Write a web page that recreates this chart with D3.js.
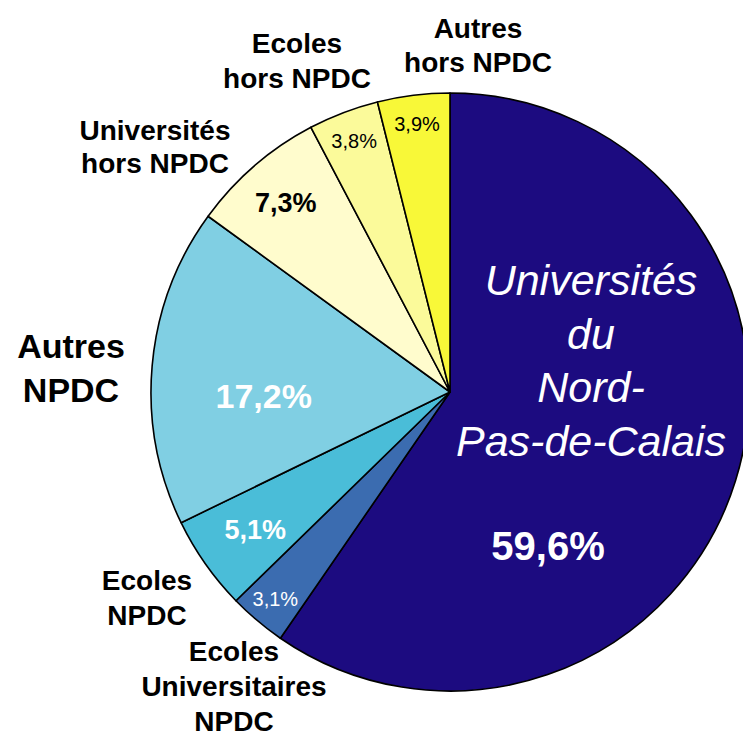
<!DOCTYPE html>
<html>
<head>
<meta charset="utf-8">
<script src="https://cdn.jsdelivr.net/npm/d3@7"></script>
<style>
  body { margin: 0; background: #fff; }
  text { font-family: "Liberation Sans", Arial, sans-serif; }
</style>
</head>
<body>
<div id="chart-area"></div>
<script>
// data
var categories = ["Universités du Nord-Pas-de-Calais", "Ecoles Universitaires NPDC", "Ecoles NPDC",
  "Autres NPDC", "Universités hors NPDC", "Ecoles hors NPDC", "Autres hors NPDC"];
var values = [59.6, 3.1, 5.1, 17.2, 7.3, 3.8, 3.9];
var valueLabels = ["59,6%", "3,1%", "5,1%", "17,2%", "7,3%", "3,8%", "3,9%"];
var colors = ["#1c0b80", "#3b6cb0", "#4abdd8", "#80cfe3", "#fffccd", "#fbfa9a", "#f8f838"];

// dimensions
var width = 743, height = 736;
var cx = 450, cy = 392, radius = 299;

var svg = d3.select("#chart-area")
  .append("svg")
  .attr("width", width)
  .attr("height", height);

var g = svg.append("g")
  .attr("transform", "translate(" + cx + "," + cy + ")");

var pie = d3.pie().sort(null).value(function(d) { return d; });
var arcs = pie(values);

var arc = d3.arc().innerRadius(0).outerRadius(radius);

g.selectAll("path")
  .data(arcs)
  .enter()
  .append("path")
  .attr("d", arc)
  .attr("fill", function(d, i) { return colors[i]; })
  .attr("stroke", "#000")
  .attr("stroke-width", 1.6)
  .attr("stroke-linejoin", "round");

// percentage labels: radius of the label, plus a small nudge, per slice
var pctStyle = [
  { r: 0, dx: 98, dy: 168, size: 40, weight: "bold", fill: "#fff" },
  { r: 271, dx: 0, dy: 7, size: 20, weight: "normal", fill: "#fff" },
  { r: 238, dx: 0, dy: 10, size: 27, weight: "bold", fill: "#fff" },
  { r: 187, dx: 0, dy: 32, size: 34, weight: "bold", fill: "#fff" },
  { r: 251, dx: 0, dy: 10, size: 27, weight: "bold", fill: "#000" },
  { r: 269, dx: 0, dy: 7, size: 20, weight: "normal", fill: "#000" },
  { r: 270, dx: 0, dy: 7, size: 20, weight: "normal", fill: "#000" }
];

g.selectAll(".pct")
  .data(arcs)
  .enter()
  .append("text")
  .attr("class", "pct")
  .attr("x", function(d, i) {
    var s = pctStyle[i];
    var c = d3.arc().innerRadius(s.r).outerRadius(s.r).centroid(d);
    return c[0] + s.dx;
  })
  .attr("y", function(d, i) {
    var s = pctStyle[i];
    var c = d3.arc().innerRadius(s.r).outerRadius(s.r).centroid(d);
    return c[1] + s.dy;
  })
  .attr("text-anchor", "middle")
  .attr("font-size", function(d, i) { return pctStyle[i].size + "px"; })
  .attr("font-weight", function(d, i) { return pctStyle[i].weight; })
  .attr("fill", function(d, i) { return pctStyle[i].fill; })
  .text(function(d, i) { return valueLabels[i]; });

// category labels (lines, position of the first baseline, line step)
var catLabels = [
  { lines: ["Universités", "du", "Nord-", "Pas-de-Calais"], x: 591, y: 295, step: 53.5,
    size: 43, weight: "normal", style: "italic", fill: "#fff" },
  { lines: ["Ecoles", "Universitaires", "NPDC"], x: 234, y: 661, step: 35,
    size: 28, weight: "bold", style: "normal", fill: "#000" },
  { lines: ["Ecoles", "NPDC"], x: 147, y: 590, step: 35,
    size: 28, weight: "bold", style: "normal", fill: "#000" },
  { lines: ["Autres", "NPDC"], x: 71, y: 358, step: 44,
    size: 34, weight: "bold", style: "normal", fill: "#000" },
  { lines: ["Universités", "hors NPDC"], x: 155, y: 140, step: 33,
    size: 28, weight: "bold", style: "normal", fill: "#000" },
  { lines: ["Ecoles", "hors NPDC"], x: 297, y: 53, step: 35,
    size: 28, weight: "bold", style: "normal", fill: "#000" },
  { lines: ["Autres", "hors NPDC"], x: 478, y: 38, step: 34,
    size: 28, weight: "bold", style: "normal", fill: "#000" }
];

var lab = svg.selectAll(".cat")
  .data(catLabels)
  .enter()
  .append("text")
  .attr("class", "cat")
  .attr("text-anchor", "middle")
  .attr("font-size", function(d) { return d.size + "px"; })
  .attr("font-weight", function(d) { return d.weight; })
  .attr("font-style", function(d) { return d.style; })
  .attr("fill", function(d) { return d.fill; });

lab.selectAll("tspan")
  .data(function(d) {
    return d.lines.map(function(l, j) { return { t: l, x: d.x, y: d.y + j * d.step }; });
  })
  .enter()
  .append("tspan")
  .attr("x", function(d) { return d.x; })
  .attr("y", function(d) { return d.y; })
  .text(function(d) { return d.t; });
</script>
</body>
</html>
